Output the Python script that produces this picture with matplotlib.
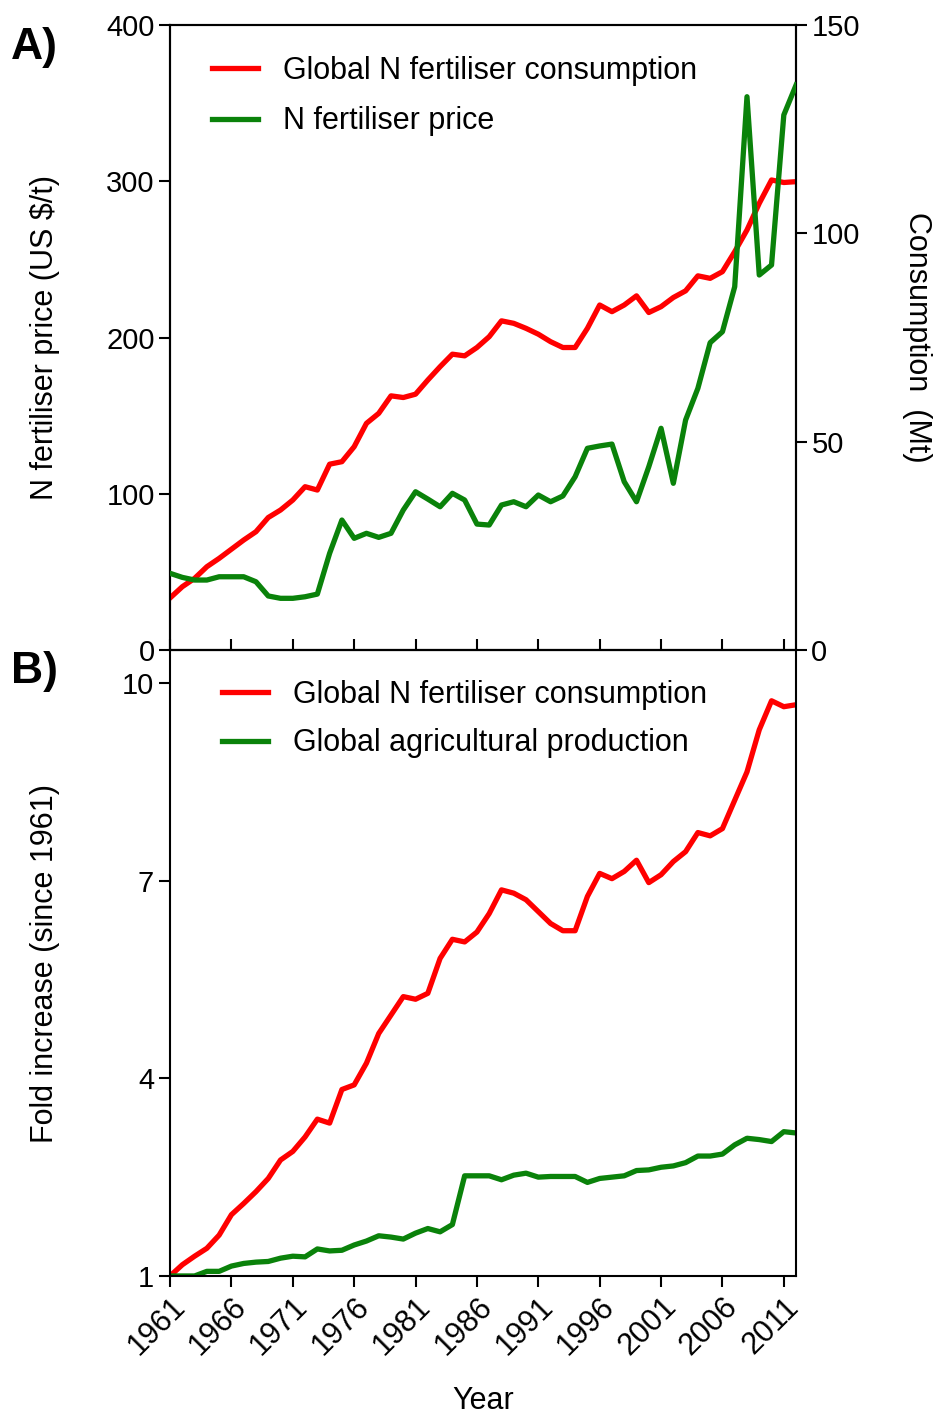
import numpy as np
import matplotlib
matplotlib.use("Agg")
import matplotlib.pyplot as plt

plt.rcParams['font.family'] = ['Liberation Sans', 'DejaVu Sans']

# ---- data ----
years = np.arange(1961, 2013)

# panel A: global N fertiliser consumption (Mt, right axis)
consumption_mt = [12.5, 15.2, 17.2, 20.0, 22.0, 24.2, 26.4, 28.4, 31.8, 33.6,
                  36.0, 39.2, 38.4, 44.6, 45.2, 48.8, 54.4, 56.8, 61.0, 60.6,
                  61.4, 64.8, 68.0, 71.0, 70.6, 72.6, 75.2, 79.0, 78.4, 77.2,
                  75.8, 74.0, 72.6, 72.6, 77.2, 82.8, 81.2, 82.8, 85.0, 81.0,
                  82.4, 84.6, 86.2, 89.8, 89.2, 90.8, 95.6, 100.8, 107.2, 112.8,
                  112.2, 112.4]

# panel A: N fertiliser price (US $/t, left axis)
price_usd = [49.1, 46.5, 44.8, 44.8, 46.9, 46.9, 46.9, 43.7, 34.6, 33.1,
             33.1, 34.1, 35.8, 61.9, 83.2, 71.5, 74.7, 72.1, 74.7, 89.6,
             101.3, 96.6, 91.7, 100.3, 96.0, 80.6, 80.0, 92.8, 94.9, 91.7,
             99.2, 94.9, 98.6, 110.9, 129.1, 130.6, 131.8, 107.7, 94.9, 117.3,
             141.9, 106.7, 147.2, 167.5, 196.7, 203.7, 232.5, 354.1, 240.0, 246.4,
             342.4, 361.6]

# panel B: fold increase since 1961
fold_consumption = [1.0, 1.17, 1.30, 1.42, 1.62, 1.93, 2.10, 2.28, 2.48, 2.76,
                    2.89, 3.11, 3.38, 3.32, 3.83, 3.90, 4.23, 4.68, 4.96, 5.24,
                    5.20, 5.29, 5.82, 6.11, 6.07, 6.22, 6.50, 6.86, 6.81, 6.71,
                    6.53, 6.35, 6.24, 6.24, 6.76, 7.11, 7.03, 7.14, 7.31, 6.97,
                    7.09, 7.29, 7.44, 7.73, 7.68, 7.79, 8.22, 8.65, 9.29, 9.73,
                    9.64, 9.67]
fold_agri = [1.0, 1.0, 1.0, 1.07, 1.07, 1.15, 1.19, 1.21, 1.22, 1.27,
             1.30, 1.29, 1.41, 1.38, 1.39, 1.47, 1.53, 1.61, 1.59, 1.56,
             1.65, 1.72, 1.67, 1.78, 2.52, 2.52, 2.52, 2.46, 2.53, 2.56,
             2.50, 2.51, 2.51, 2.51, 2.42, 2.48, 2.50, 2.52, 2.60, 2.61,
             2.65, 2.67, 2.72, 2.82, 2.82, 2.85, 2.99, 3.09, 3.07, 3.04,
             3.19, 3.17]

xtick_years = list(range(1961, 2012, 5))

RED = '#ff0000'
GREEN = '#0a820a'
LW = 3.8
FS = 21     # y tick labels
XFS = 22    # rotated year labels
LFS = 22    # axis labels / legend

fig = plt.figure(figsize=(9.4, 14.19), dpi=100)
axA = fig.add_axes([0.1809, 0.5419, 0.6660, 0.4405])
axB = fig.add_axes([0.1809, 0.1008, 0.6660, 0.4411])

# --------------------------
# Panel A
# --------------------------
axA2 = axA.twinx()
lc, = axA2.plot(years, consumption_mt, color=RED, lw=LW, zorder=3)
lp, = axA.plot(years, price_usd, color=GREEN, lw=LW, zorder=3)
axA.set_zorder(axA2.get_zorder() + 1)
axA.patch.set_visible(False)

axA.set_xlim(1961, 2012)
axA.set_ylim(0, 400)
axA2.set_ylim(0, 150)
axA.set_yticks([0, 100, 200, 300, 400])
axA2.set_yticks([0, 50, 100, 150])
axA.set_xticks(xtick_years)
axA.set_xticklabels([])
axA.tick_params(axis='x', direction='in', length=8, width=1.5)
axA.tick_params(axis='y', direction='out', length=8, width=1.5, labelsize=FS, pad=3)
axA2.tick_params(axis='y', direction='out', length=8, width=1.5, labelsize=FS, pad=3)
axA.set_ylabel('N fertiliser price (US $/t)', fontsize=LFS, va='center')
axA.yaxis.set_label_coords(-0.199, 0.5)
axA2.set_ylabel('Consumption  (Mt)', fontsize=LFS, rotation=-90)
axA2.yaxis.label.set_va('center')
axA2.yaxis.set_label_coords(1.193, 0.5)

axA.legend([lc, lp], ['Global N fertiliser consumption', 'N fertiliser price'],
           loc='upper left', bbox_to_anchor=(0.067, 0.951), frameon=False,
           borderpad=0, borderaxespad=0,
           fontsize=LFS, handlelength=1.5, handletextpad=0.82, labelspacing=0.68)

# --------------------------
# Panel B
# --------------------------
l1, = axB.plot(years, fold_consumption, color=RED, lw=LW)
l2, = axB.plot(years, fold_agri, color=GREEN, lw=LW)
axB.set_xlim(1961, 2012)
axB.set_ylim(1, 10.5)
axB.set_yticks([1, 4, 7, 10])
axB.set_xticks(xtick_years)
axB.set_xticklabels([str(y) for y in xtick_years], rotation=45, ha='right',
                    rotation_mode='anchor', fontsize=XFS)
axB.tick_params(axis='both', direction='out', length=8, width=1.5)
axB.tick_params(axis='y', labelsize=FS)
axB.set_ylabel('Fold increase (since 1961)', fontsize=LFS, va='center')
axB.yaxis.set_label_coords(-0.199, 0.5)
axB.set_xlabel('Year', fontsize=LFS, va='center')
axB.xaxis.set_label_coords(0.5, -0.2)
axB.legend([l1, l2], ['Global N fertiliser consumption', 'Global agricultural production'],
           loc='upper left', bbox_to_anchor=(0.083, 0.952), frameon=False,
           borderpad=0, borderaxespad=0,
           fontsize=LFS, handlelength=1.5, handletextpad=0.82, labelspacing=0.6)

for ax in (axA, axA2, axB):
    for sp in ax.spines.values():
        sp.set_linewidth(1.5)

fig.text(0.012, 0.981, 'A)', fontsize=32, fontweight='bold', va='top')
fig.text(0.012, 0.541, 'B)', fontsize=32, fontweight='bold', va='top')

fig.savefig('out.png', dpi=100)
